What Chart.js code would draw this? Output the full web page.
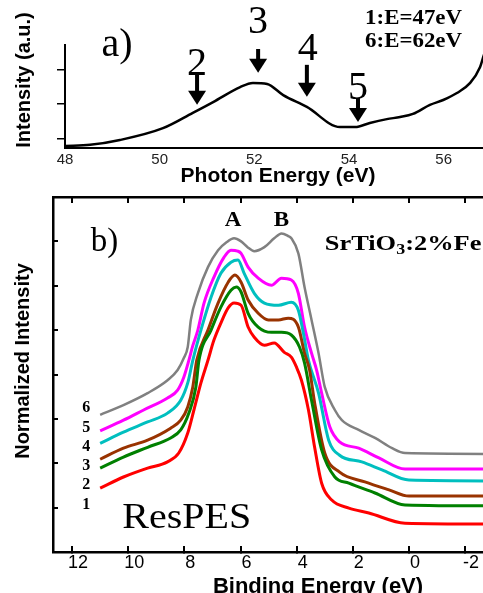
<!DOCTYPE html>
<html>
<head>
<meta charset="utf-8">
<script src="https://cdn.jsdelivr.net/npm/chart.js@4.4.1/dist/chart.umd.min.js"></script>
<style>
  html, body { margin:0; padding:0; background:#fff; width:483px; height:593px; overflow:hidden; }
  canvas { position:absolute; left:0; }
  #ca { top:0; }
  #cb { top:190px; }
</style>
</head>
<body>
<canvas id="ca" width="491" height="192"></canvas>
<canvas id="cb" width="583" height="403"></canvas>
<script>
// ---------- Panel a data ----------
const photonEnergy = [48.0, 48.53, 49.16, 50.07, 50.70, 51.13, 51.70, 51.97, 52.27, 52.61, 53.11, 53.81, 54.13, 54.44, 54.80, 55.08, 55.35, 55.71, 55.99, 56.28, 56.56, 56.77, 56.83, 56.9];
const intensityA   = [0.80, 0.83, 0.97, 1.31, 1.75, 2.06, 2.49, 2.61, 2.58, 2.26, 1.92, 1.34, 1.34, 1.46, 1.57, 1.63, 1.72, 1.98, 2.12, 2.32, 2.61, 3.07, 3.33, 3.62];
const photonTicks  = [48, 50, 52, 54, 56];
const intensityTicksA = [1, 2, 3];

// ---------- Panel b data (binding energy eV, normalized intensity) ----------
const be1  = [11.0, 10.17, 9.31, 8.6, 8.2, 7.88, 7.66, 7.41, 7.16, 6.95, 6.7, 6.44, 6.23, 5.98, 5.73, 5.51, 5.15, 4.8, 4.44, 4.19, 4.01, 3.83, 3.58, 3.36, 3.11, 2.75, 2.14, 1.43, 0.14, -3.0];
const int1 = [1.44, 1.69, 1.89, 2.03, 2.23, 2.68, 3.20, 3.81, 4.32, 4.77, 5.16, 5.50, 5.61, 5.56, 5.07, 4.84, 4.66, 4.71, 4.50, 4.39, 4.17, 3.87, 3.20, 2.36, 1.55, 1.17, 0.99, 0.88, 0.65, 0.63];
const be2  = [11.0, 10.17, 9.31, 8.49, 8.13, 7.84, 7.59, 7.48, 7.05, 6.7, 6.34, 6.15, 5.98, 5.73, 5.37, 4.9, 4.54, 4.19, 3.9, 3.72, 3.47, 3.11, 2.64, 2.14, 1.21, 0.14, -3.0];
const int2 = [1.89, 2.14, 2.36, 2.57, 2.75, 3.13, 3.72, 4.32, 5.00, 5.52, 5.90, 5.97, 5.86, 5.38, 5.07, 4.95, 4.95, 4.89, 4.62, 4.26, 3.42, 2.30, 1.69, 1.55, 1.33, 1.06, 1.04];
const be3  = [11.0, 10.17, 9.31, 8.49, 8.13, 7.88, 7.7, 7.56, 7.16, 6.8, 6.44, 6.2, 5.98, 5.73, 5.37, 5.01, 4.65, 4.3, 3.94, 3.72, 3.54, 3.36, 3.0, 2.47, 1.57, 0.71, 0.0, -3.0];
const int3 = [2.09, 2.34, 2.52, 2.79, 2.97, 3.27, 3.72, 4.32, 5.00, 5.61, 6.08, 6.24, 6.08, 5.68, 5.38, 5.23, 5.23, 5.27, 5.07, 4.48, 4.10, 3.36, 2.23, 1.80, 1.58, 1.40, 1.26, 1.26];
const be4  = [11.0, 10.17, 9.31, 8.6, 8.13, 7.88, 7.7, 7.41, 7.05, 6.7, 6.34, 6.09, 5.87, 5.51, 5.15, 4.65, 4.19, 3.94, 3.76, 3.58, 3.22, 2.86, 2.47, 1.68, 0.96, 0.0, -3.0];
const int4 = [2.45, 2.70, 2.93, 3.13, 3.42, 3.81, 4.32, 5.00, 5.74, 6.28, 6.53, 6.58, 6.28, 5.83, 5.61, 5.56, 5.63, 5.45, 4.93, 4.32, 3.58, 2.52, 2.18, 2.03, 1.85, 1.62, 1.60];
const be5  = [11.0, 10.17, 9.45, 8.6, 8.24, 8.02, 7.84, 7.7, 7.52, 7.3, 6.95, 6.59, 6.34, 6.1, 5.98, 5.73, 5.37, 4.9, 4.54, 4.19, 3.94, 3.72, 3.47, 3.29, 3.11, 2.82, 2.47, 1.79, 1.07, 0.14, -3.0];
const int5 = [2.73, 2.97, 3.20, 3.47, 3.65, 3.94, 4.32, 4.65, 5.00, 5.61, 6.19, 6.64, 6.80, 6.78, 6.73, 6.42, 6.17, 6.01, 6.17, 6.13, 5.83, 5.07, 4.48, 4.10, 3.58, 2.82, 2.48, 2.34, 2.12, 1.87, 1.87];
const be6  = [11.0, 10.17, 9.31, 8.6, 8.24, 8.02, 7.88, 7.77, 7.52, 7.16, 6.8, 6.5, 6.23, 5.98, 5.75, 5.51, 5.15, 4.8, 4.54, 4.3, 4.19, 3.94, 3.72, 3.47, 3.22, 3.0, 2.64, 2.39, 1.79, 1.21, 0.6, 0.14, -3.0];
const int6 = [3.09, 3.31, 3.58, 3.87, 4.10, 4.37, 4.62, 5.23, 5.83, 6.42, 6.80, 6.98, 7.07, 7.00, 6.87, 6.78, 6.87, 7.07, 7.18, 7.12, 7.07, 6.73, 5.97, 5.23, 4.48, 3.72, 3.20, 2.97, 2.75, 2.57, 2.34, 2.23, 2.21];
const bindingTicks = [12, 10, 8, 6, 4, 2, 0, -2];
const intensityTicksB = [1, 2, 3, 4, 5, 6, 7];
const seriesLabels = ['1', '2', '3', '4', '5', '6'];
const seriesColors = ['#ff0000', '#008000', '#993300', '#00bfbf', '#ff00ff', '#808080'];

const SANS = "'Liberation Sans', Arial, sans-serif";
const SERIF = "'Liberation Serif', 'Times New Roman', serif";

// ---------- annotation plugin ----------
const annotPlugin = {
  id: 'annot',
  afterDraw(chart, args, opts) {
    const ctx = chart.ctx;
    const xs = chart.scales.x, ys = chart.scales.y;
    ctx.save();
    ctx.fillStyle = '#000';
    (opts.arrows || []).forEach(a => {
      const x = xs.getPixelForValue(a.x);
      const y0 = ys.getPixelForValue(a.top);
      const y1 = ys.getPixelForValue(a.tip);
      const head = 14, hw = 9;
      ctx.fillRect(x - 2, y0, 4, (y1 - y0) - head + 1);
      ctx.beginPath();
      ctx.moveTo(x - hw, y1 - head);
      ctx.lineTo(x + hw, y1 - head);
      ctx.lineTo(x, y1);
      ctx.closePath();
      ctx.fill();
    });
    (opts.texts || []).forEach(t => {
      const x0 = xs.getPixelForValue(t.x);
      const y = ys.getPixelForValue(t.y);
      const sx = t.sx || 1;
      ctx.save();
      ctx.translate(x0, y);
      ctx.scale(sx, 1);
      ctx.textBaseline = 'middle';
      if (t.parts) {
        ctx.textAlign = 'left';
        let x = 0;
        t.parts.forEach(p => {
          ctx.font = p.font;
          ctx.fillText(p.text, x, p.dy || 0);
          x += ctx.measureText(p.text).width;
        });
      } else {
        ctx.font = t.font;
        ctx.textAlign = t.align || 'center';
        ctx.fillText(t.text, 0, 0);
      }
      ctx.restore();
    });
    (opts.vtitles || []).forEach(v => {
      ctx.save();
      ctx.translate(v.px, v.py);
      ctx.rotate(-Math.PI / 2);
      ctx.font = v.font;
      ctx.textAlign = 'center';
      ctx.textBaseline = 'middle';
      ctx.fillText(v.text, 0, 0);
      ctx.restore();
    });
    ctx.restore();
  }
};

// ---------- Panel a ----------
new Chart(document.getElementById('ca'), {
  type: 'line',
  data: {
    datasets: [{
      data: photonEnergy.map((e, i) => ({ x: e, y: intensityA[i] })),
      borderColor: '#000', borderWidth: 2.5, pointRadius: 0,
      cubicInterpolationMode: 'monotone', fill: false
    }]
  },
  options: {
    responsive: false, devicePixelRatio: 1, animation: false,
    layout: { padding: { top: 45, left: 0, right: 0, bottom: 0 } },
    plugins: {
      legend: { display: false }, tooltip: { enabled: false },
      annot: {
        arrows: [
          { x: 50.79, top: 2.90, tip: 1.98 },
          { x: 52.08, top: 3.585, tip: 2.90 },
          { x: 53.11, top: 3.13, tip: 2.21 },
          { x: 54.19, top: 2.18, tip: 1.49 }
        ],
        texts: [
          { text: '2', x: 50.79, y: 3.15, font: '40px ' + SERIF },
          { text: '3', x: 52.08, y: 4.34, font: '40px ' + SERIF },
          { text: '4', x: 53.13, y: 3.57, font: '40px ' + SERIF },
          { text: '5', x: 54.19, y: 2.46, font: '40px ' + SERIF },
          { text: 'a)', x: 49.10, y: 3.68, font: '40px ' + SERIF },
          { text: '1:E=47eV', x: 54.34, y: 4.47, align: 'left', font: 'bold 22px ' + SERIF, sx: 1.04 },
          { text: '6:E=62eV', x: 54.34, y: 3.81, align: 'left', font: 'bold 22px ' + SERIF, sx: 1.04 }
        ],
        vtitles: [ { text: 'Intensity (a.u.)', px: 24, py: 80, font: 'bold 20px ' + SANS } ]
      }
    },
    scales: {
      x: {
        type: 'linear', position: 'bottom', min: 48, max: 57,
        afterFit: s => { s.height = 44; },
        afterBuildTicks: s => { s.ticks = photonTicks.map(v => ({ value: v })); },
        ticks: { font: { family: SANS, size: 15 }, color: '#222', padding: 3 },
        grid: { display: false, drawTicks: false },
        border: { display: true, color: '#000', width: 2 },
        title: { display: true, text: 'Photon Energy (eV)', color: '#000',
                 font: { family: SANS, size: 21, weight: 'bold' }, padding: { top: 0, bottom: 3 } }
      },
      y: {
        type: 'linear', position: 'left', min: 0.74, max: 3.70,
        afterFit: s => { s.width = 65; },
        afterBuildTicks: s => { s.ticks = intensityTicksA.map(v => ({ value: v })); },
        ticks: { display: false },
        grid: { display: true, drawOnChartArea: false, drawTicks: true, tickLength: 8, color: '#000', lineWidth: 1.5 },
        border: { display: true, color: '#000', width: 2 }
      }
    }
  },
  plugins: [annotPlugin]
});

// ---------- Panel b ----------
const beSets = [be1, be2, be3, be4, be5, be6];
const intSets = [int1, int2, int3, int4, int5, int6];
new Chart(document.getElementById('cb'), {
  type: 'line',
  data: {
    datasets: beSets.map((be, k) => ({
      label: seriesLabels[k],
      data: be.map((e, i) => ({ x: e, y: intSets[k][i] })),
      borderColor: seriesColors[k], borderWidth: k === 5 ? 2.5 : 3, pointRadius: 0,
      cubicInterpolationMode: 'monotone', fill: false
    }))
  },
  options: {
    responsive: false, devicePixelRatio: 1, animation: false,
    layout: { padding: { top: 7, left: 0, right: 0, bottom: 0 } },
    plugins: {
      legend: { display: false }, tooltip: { enabled: false },
      annot: {
        texts: [
          { text: 'A', x: 6.27, y: 7.46, font: 'bold 20px ' + SERIF, sx: 1.15 },
          { text: 'B', x: 4.54, y: 7.46, font: 'bold 20px ' + SERIF, sx: 1.15 },
          { text: 'b)', x: 10.85, y: 6.98, font: '33px ' + SERIF },
          { text: 'ResPES', x: 10.21, y: 0.75, align: 'left', font: '36px ' + SERIF, sx: 1.11 },
          { x: 3.0, y: 6.94, sx: 1.2, parts: [
            { text: 'SrTiO', font: 'bold 22px ' + SERIF },
            { text: '3', font: 'bold 15px ' + SERIF, dy: 6 },
            { text: ':2%Fe', font: 'bold 22px ' + SERIF }
          ] },
          { text: '6', x: 11.5, y: 3.24, font: 'bold 16px ' + SERIF },
          { text: '5', x: 11.5, y: 2.79, font: 'bold 16px ' + SERIF },
          { text: '4', x: 11.5, y: 2.36, font: 'bold 16px ' + SERIF },
          { text: '3', x: 11.5, y: 1.94, font: 'bold 16px ' + SERIF },
          { text: '2', x: 11.5, y: 1.51, font: 'bold 16px ' + SERIF },
          { text: '1', x: 11.5, y: 1.06, font: 'bold 16px ' + SERIF }
        ],
        vtitles: [ { text: 'Normalized Intensity', px: 23, py: 171, font: 'bold 20px ' + SANS } ]
      }
    },
    scales: {
      x: {
        type: 'linear', position: 'bottom', min: -6.2, max: 12.68, reverse: true,
        afterFit: s => { s.height = 41; },
        afterBuildTicks: s => { s.ticks = bindingTicks.map(v => ({ value: v })); },
        ticks: { font: { family: SANS, size: 18 }, color: '#000', padding: 6, labelOffset: 6 },
        grid: { display: true, drawOnChartArea: false, drawTicks: true, tickLength: -6, color: '#000', lineWidth: 2 },
        border: { display: true, color: '#000', width: 2.5 },
        title: { display: true, text: 'Binding Energy (eV)', color: '#000',
                 font: { family: SANS, size: 22, weight: 'bold' }, padding: { top: 0, bottom: -7 } }
      },
      x2: {
        type: 'linear', position: 'top', min: -6.2, max: 12.68, reverse: true,
        afterFit: s => { s.height = 0; },
        afterBuildTicks: s => { s.ticks = bindingTicks.map(v => ({ value: v })); },
        ticks: { display: false },
        grid: { display: true, drawOnChartArea: false, drawTicks: true, tickLength: -6, color: '#000', lineWidth: 2 },
        border: { display: true, color: '#000', width: 2.5 }
      },
      y: {
        type: 'linear', position: 'left', min: 0, max: 8,
        afterFit: s => { s.width = 53; },
        afterBuildTicks: s => { s.ticks = intensityTicksB.map(v => ({ value: v })); },
        ticks: { display: false },
        grid: { display: true, drawOnChartArea: false, drawTicks: true, tickLength: -5, color: '#000', lineWidth: 2 },
        border: { display: true, color: '#000', width: 2.5 }
      }
    }
  },
  plugins: [annotPlugin]
});
</script>
</body>
</html>
